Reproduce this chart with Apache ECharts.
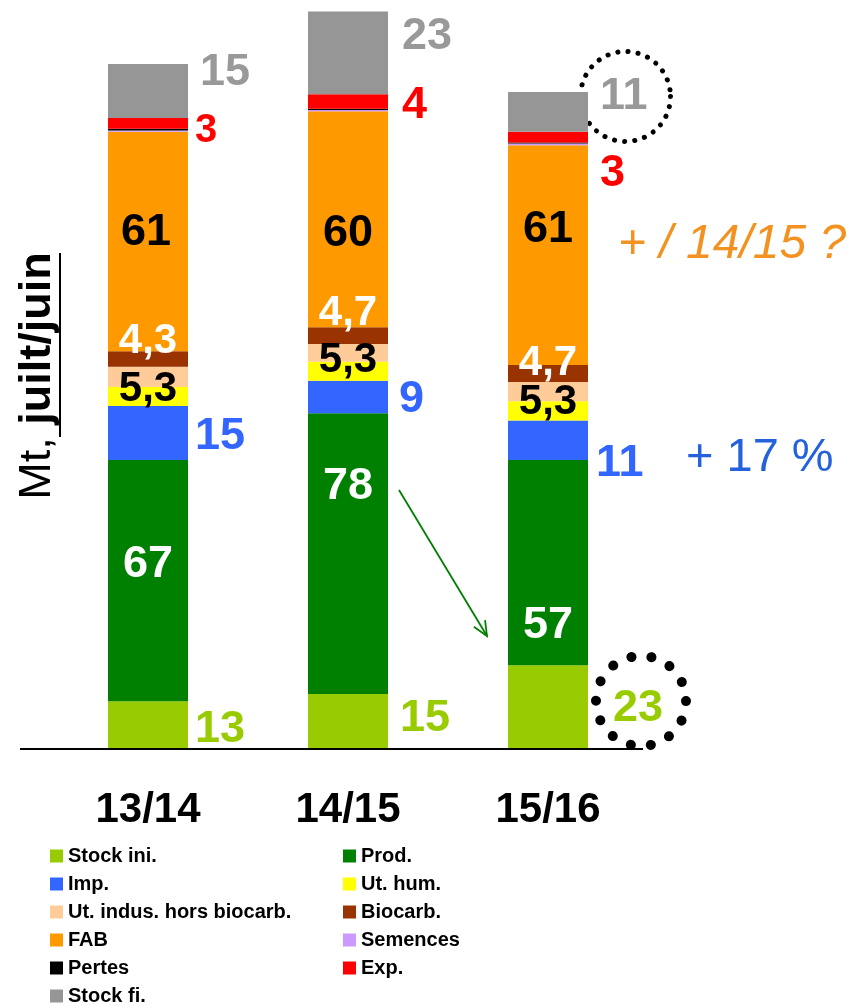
<!DOCTYPE html>
<html>
<head>
<meta charset="utf-8">
<script src="https://cdn.jsdelivr.net/npm/echarts@6/dist/echarts.min.js"></script>
<style>
  html, body { margin: 0; padding: 0; background: #ffffff; }
  #chart { width: 850px; height: 1008px; }
</style>
</head>
<body>
<div id="chart"></div>
<script>
// Bilan par campagne (Mt, juillet/juin) : ressources puis emplois, empilés
const campagnes = ['13/14', '14/15', '15/16'];
const stockIni  = [13, 15, 23];
const prod      = [67, 78, 57];
const imp       = [15, 9, 11];
const utHum     = [5.3, 5.3, 5.3];
const utIndus   = [5.6, 4.9, 5.4];
const biocarb   = [4.3, 4.7, 4.7];
const fab       = [61, 60, 61];
const semences  = [0.3, 0.3, 0.5];
const pertes    = [0.5, 0.4, 0.3];
const exp       = [3, 4, 3];
const stockFi   = [15, 23, 11];

const FONT = '"Liberation Sans", Arial, Helvetica, sans-serif';
const fmt = v => String(v).replace('.', ',');

// Digits sit a little above the centre of the text box; push labels down
const BASE_DY = 3;

// Label placement per series and per bar: [dx, dy] in pixels
const labelStyles = {
  'Stock ini.': { pos: 'right',  color: '#99CC00', size: [45, 45, 45], off: [[7, 2], [12, -5], [25, -1]] },
  'Prod.':      { pos: 'inside', color: '#FFFFFF', size: [45, 45, 45], off: [[0, -19], [0, -70], [0, 60]] },
  'Imp.':       { pos: 'right',  color: '#3366FF', size: [45, 45, 45], off: [[7, 1], [11, 0], [8, 20]] },
  'Ut. hum.':   { pos: 'inside', color: '#000000', size: [42, 42, 42], off: [[0, -10], [0, -14], [0, -11]] },
  'Biocarb.':   { pos: 'inside', color: '#FFFFFF', size: [42, 42, 42], off: [[0, -21], [0, -25], [0, -13]] },
  'FAB':        { pos: 'inside', color: '#000000', size: [45, 45, 45], off: [[-2, -12], [0, 11], [0, -29]] },
  'Exp.':       { pos: 'right',  color: '#FF0000', size: [40, 45, 45], off: [[7, 5], [14, 1], [12, 34]] },
  'Stock fi.':  { pos: 'right',  color: '#999999', size: [45, 45, 45], off: [[12, -21], [14, -19], [12, -18]] }
};

const seriesDefs = [
  { name: 'Stock ini.',                 data: stockIni, color: '#99CC00' },
  { name: 'Prod.',                      data: prod,     color: '#008000' },
  { name: 'Imp.',                       data: imp,      color: '#3366FF' },
  { name: 'Ut. hum.',                   data: utHum,    color: '#FFFF00' },
  { name: 'Ut. indus. hors biocarb.',   data: utIndus,  color: '#FFCC99' },
  { name: 'Biocarb.',                   data: biocarb,  color: '#993300' },
  { name: 'FAB',                        data: fab,      color: '#FF9900' },
  { name: 'Semences',                   data: semences, color: '#CC99FF' },
  { name: 'Pertes',                     data: pertes,   color: '#000000' },
  { name: 'Exp.',                       data: exp,      color: '#FF0000' },
  { name: 'Stock fi.',                  data: stockFi,  color: '#969696' }
];

function buildItems(values, st) {
  return values.map((v, i) => {
    const item = { value: v };
    if (st) {
      item.label = {
        show: true,
        position: st.pos,
        distance: 0,
        offset: [st.off[i][0], st.off[i][1] + BASE_DY],
        color: st.color,
        fontSize: st.size[i],
        fontWeight: 'bold',
        fontFamily: FONT,
        formatter: p => fmt(p.value)
      };
    }
    return item;
  });
}

const series = seriesDefs.map(d => ({
  name: d.name,
  type: 'bar',
  stack: 'bilan',
  barWidth: 80,
  itemStyle: { color: d.color },
  label: { show: false },
  emphasis: { disabled: true },
  data: buildItems(d.data, labelStyles[d.name])
}));

const legendText = { fontSize: 20, fontWeight: 'bold', color: '#000', fontFamily: FONT, lineHeight: 20 };
const legendBase = {
  orient: 'vertical', top: 846, padding: 0, itemGap: 8,
  itemWidth: 13, itemHeight: 13, icon: 'rect', selectedMode: false,
  textStyle: legendText
};

// Open arrow from 14/15 production toward 15/16 production
const arrowFrom = [399, 490], arrowTo = [487, 636];
function arrowHead(from, to, len, ang) {
  const dx = to[0] - from[0], dy = to[1] - from[1];
  const a = Math.atan2(dy, dx);
  return [
    [to[0] - len * Math.cos(a - ang), to[1] - len * Math.sin(a - ang)],
    to,
    [to[0] - len * Math.cos(a + ang), to[1] - len * Math.sin(a + ang)]
  ];
}

const chart = echarts.init(document.getElementById('chart'), null, { renderer: 'canvas' });
chart.setOption({
  animation: false,
  backgroundColor: '#ffffff',
  grid: { left: 48, width: 600, top: 10, bottom: 260, containLabel: false },
  xAxis: {
    type: 'category',
    data: campagnes,
    axisLine: { show: false },
    axisTick: { show: false },
    axisLabel: { margin: 41, fontSize: 42, fontWeight: 'bold', color: '#000', fontFamily: FONT }
  },
  yAxis: { type: 'value', min: 0, max: 205, show: false },
  legend: [
    Object.assign({}, legendBase, { left: 50, data: ['Stock ini.', 'Imp.', 'Ut. indus. hors biocarb.', 'FAB', 'Pertes', 'Stock fi.'] }),
    Object.assign({}, legendBase, { left: 343, data: ['Prod.', 'Ut. hum.', 'Biocarb.', 'Semences', 'Exp.'] })
  ],
  series: series,
  graphic: [
    { type: 'line', silent: true, shape: { x1: 20, y1: 749, x2: 643, y2: 749 }, style: { stroke: '#000', lineWidth: 2 } },
    {
      type: 'text', x: 38, y: 376, rotation: Math.PI / 2, silent: true,
      style: {
        text: '{a|Mt, }{b|juilt/juin}',
        align: 'center', verticalAlign: 'middle',
        fill: '#000', fontSize: 45, fontFamily: FONT,
        rich: {
          a: { fontSize: 45, fontFamily: FONT, fontWeight: 'normal', fill: '#000' },
          b: { fontSize: 45, fontFamily: FONT, fontWeight: 'bold', fill: '#000' }
        }
      }
    },
    { type: 'line', silent: true, shape: { x1: 60, y1: 253, x2: 60, y2: 437 }, style: { stroke: '#000', lineWidth: 2 } },
    {
      type: 'text', x: 618, y: 245, silent: true,
      style: { text: '+ / 14/15 ?', align: 'left', verticalAlign: 'middle', fill: '#F39220', fontSize: 48, fontStyle: 'italic', fontFamily: FONT }
    },
    {
      type: 'text', x: 686, y: 458, silent: true,
      style: { text: '+ 17 %', align: 'left', verticalAlign: 'middle', fill: '#2461DB', fontSize: 47, fontFamily: FONT }
    },
    {
      type: 'circle', silent: true, shape: { cx: 625.5, cy: 96.5, r: 45 },
      style: { fill: 'none', stroke: '#000', lineWidth: 5, lineCap: 'round', lineDash: [0.1, 10.1] }
    },
    {
      type: 'circle', silent: true, shape: { cx: 641, cy: 701, r: 45 },
      style: { fill: 'none', stroke: '#000', lineWidth: 10, lineCap: 'round', lineDash: [0.1, 20.1] }
    },
    { type: 'line', silent: true, shape: { x1: arrowFrom[0], y1: arrowFrom[1], x2: arrowTo[0], y2: arrowTo[1] }, style: { stroke: '#008000', lineWidth: 1.8 } },
    { type: 'polyline', silent: true, shape: { points: arrowHead(arrowFrom, arrowTo, 16, 0.42) }, style: { fill: 'none', stroke: '#008000', lineWidth: 1.8 } }
  ]
});
</script>
</body>
</html>
